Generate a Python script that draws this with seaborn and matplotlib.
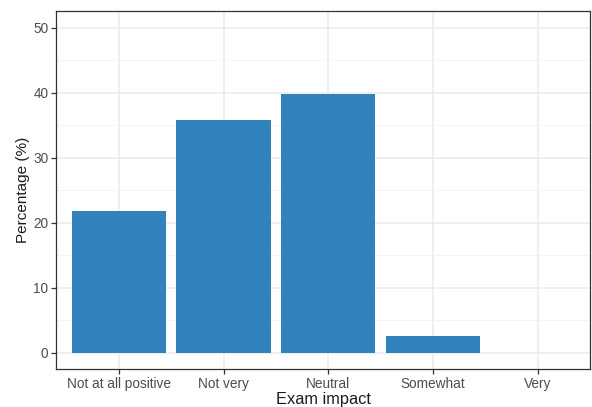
import numpy as np
import pandas as pd
import seaborn as sns
import matplotlib.pyplot as plt
from matplotlib.ticker import MultipleLocator

# Survey responses: exam impact
categories = ["Not at all positive", "Not very", "Neutral", "Somewhat", "Very"]
percentages = [21.8, 35.9, 39.8, 2.6, 0.0]

df = pd.DataFrame({"impact": categories, "pct": percentages})

sns.set_theme(style="white")
plt.rcParams['font.family'] = ['Liberation Sans', 'DejaVu Sans']

fig = plt.figure(figsize=(5.92, 4.07), dpi=100)
ax = fig.add_axes([0.0946, 0.093, 0.902, 0.88])

sns.barplot(data=df, x="impact", y="pct", order=categories, color="#3182BD",
            saturation=1, width=0.9, edgecolor="none", ax=ax, zorder=3)

ax.set_xlim(-0.6, 4.5)
ax.set_ylim(-2.5, 52.6)
ax.yaxis.set_major_locator(MultipleLocator(10))
ax.yaxis.set_minor_locator(MultipleLocator(5))

# ggplot theme_bw style grid
ax.grid(True, which="major", color="#EBEBEB", linewidth=1.1, zorder=0)
ax.grid(True, which="minor", axis="y", color="#F2F2F2", linewidth=0.6, zorder=0)
ax.set_axisbelow(True)
for s in ax.spines.values():
    s.set_visible(True)
    s.set_color("#333333")
    s.set_linewidth(0.9)

ax.tick_params(axis="both", which="major", length=3.5, width=0.9, color="#333333",
               labelcolor="#4D4D4D", labelsize=9.8, pad=2)
ax.tick_params(axis="both", which="minor", length=0)
ax.tick_params(axis="x", bottom=True)
ax.tick_params(axis="y", left=True)

ax.set_xlabel("Exam impact", fontsize=11.8, color="#1A1A1A", labelpad=1)
ax.set_ylabel("Percentage (%)", fontsize=11, color="#1A1A1A", labelpad=2)

fig.savefig("out.png", dpi=100)
